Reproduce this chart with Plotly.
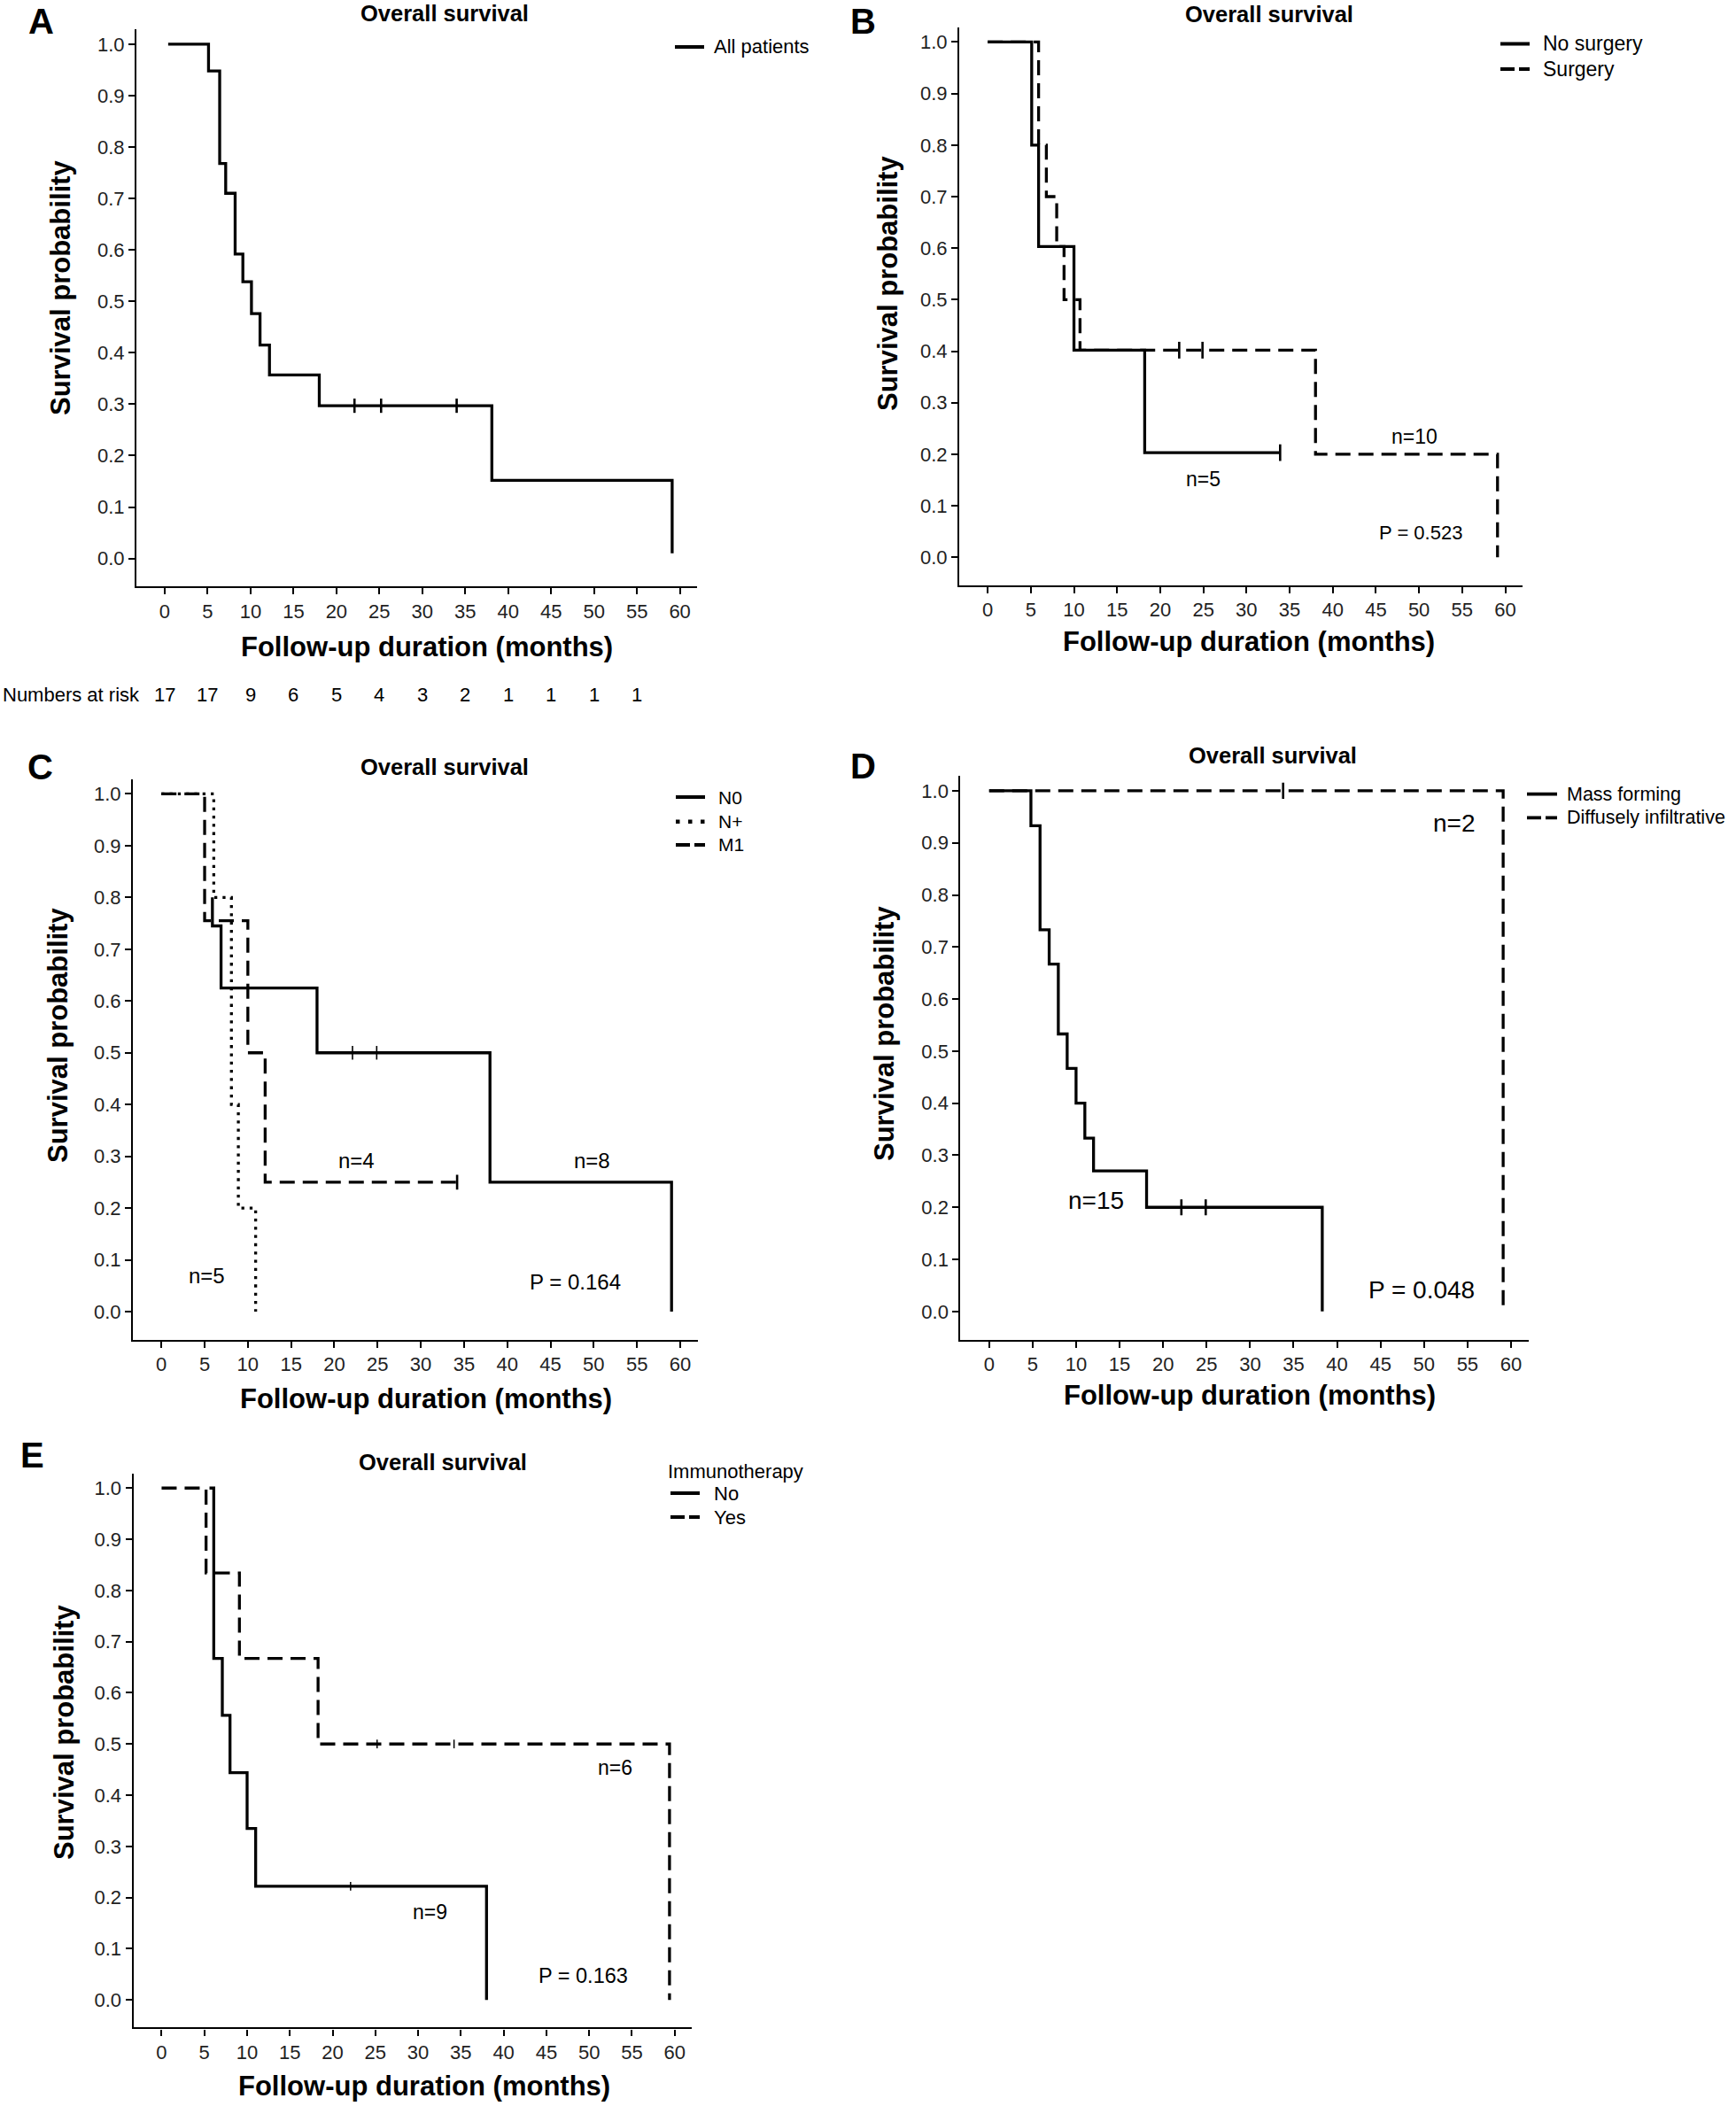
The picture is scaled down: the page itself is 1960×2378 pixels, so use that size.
import plotly.graph_objects as go

W, H = 1960, 2378
FONT = "Liberation Sans, Arial, sans-serif"

# ------------------------- DATA -------------------------
x_ticks = list(range(0, 61, 5))
y_ticks = [0.0, 0.1, 0.2, 0.3, 0.4, 0.5, 0.6, 0.7, 0.8, 0.9, 1.0]

# Panel A - all patients
a_time = [0.4, 5.1, 6.4, 7.1, 8.2, 9.1, 10.1, 11.1, 12.2, 18.0, 38.1, 59.1]
a_surv = [1.0, 0.948, 0.768, 0.71, 0.592, 0.538, 0.476, 0.415, 0.357, 0.297, 0.152, 0.01]
a_cens_time = [22.1, 25.2, 34.0]
a_cens_surv = [0.297, 0.297, 0.297]
risk_time = [0, 5, 10, 15, 20, 25, 30, 35, 40, 45, 50, 55]
risk_counts = [17, 17, 9, 6, 5, 4, 3, 2, 1, 1, 1, 1]

# Panel B - surgery
b_nosurg_time = [0, 5.1, 5.9, 10.0, 18.2, 33.9]
b_nosurg_surv = [1.0, 0.8, 0.603, 0.402, 0.203, 0.203]
b_nosurg_cens_time = [33.9]
b_nosurg_cens_surv = [0.203]
b_surg_time = [0, 5.9, 6.8, 8.0, 8.85, 10.7, 38.0, 59.1]
b_surg_surv = [1.0, 0.8, 0.7, 0.603, 0.5, 0.402, 0.2, 0.0]
b_surg_cens_time = [22.2, 24.9]
b_surg_cens_surv = [0.402, 0.402]

# Panel C - nodal status
c_n0_time = [5.9, 5.9, 6.9, 18.0, 38.0, 59.0]
c_n0_surv = [0.80, 0.745, 0.625, 0.5, 0.25, 0.0]
c_n0_cens_time = [22.1, 24.9]
c_n0_cens_surv = [0.5, 0.5]
c_np_time = [0, 6.06, 8.1, 8.9, 10.9]
c_np_surv = [1.0, 0.8, 0.4, 0.2, 0.0]
c_m1_time = [0, 5.0, 10.0, 12.0, 34.2]
c_m1_surv = [1.0, 0.755, 0.5, 0.25, 0.25]
c_m1_cens_time = [34.2]
c_m1_cens_surv = [0.25]

# Panel D - morphology
d_mass_time = [0, 4.8, 5.85, 6.9, 7.95, 8.97, 9.99, 11.0, 12.0, 18.1, 38.3]
d_mass_surv = [1.0, 0.933, 0.733, 0.667, 0.533, 0.467, 0.4, 0.333, 0.27, 0.2, 0.0]
d_mass_cens_time = [22.1, 24.9]
d_mass_cens_surv = [0.2, 0.2]
d_diff_time = [0, 59.1]
d_diff_surv = [1.0, 0.0]
d_diff_cens_time = [33.8]
d_diff_cens_surv = [1.0]

# Panel E - immunotherapy
e_no_time = [5.6, 6.1, 7.1, 8.0, 10.0, 11.0, 38.0]
e_no_surv = [1.0, 0.667, 0.556, 0.444, 0.335, 0.222, 0.0]
e_no_cens_time = [22.1]
e_no_cens_surv = [0.222]
e_yes_time = [0, 5.2, 9.1, 18.3, 59.4]
e_yes_surv = [1.0, 0.834, 0.667, 0.5, 0.0]
e_yes_cens_time = [25.2, 34.2]
e_yes_cens_surv = [0.5, 0.5]

# legend entries per panel
legend_a = ["All patients"]
legend_b = ["No surgery", "Surgery"]
legend_c = ["N0", "N+", "M1"]
legend_d = ["Mass forming", "Diffusely infiltrative"]
legend_e_title = "Immunotherapy"
legend_e = ["No", "Yes"]


# ------------------------- LAYOUT HELPERS -------------------------
def px_x(p):
    return p / W


def px_y(p):
    return 1 - p / H


# panel frames in pixels: (left, right, top, bottom)
frames = {
    "A": (154, 787, 33, 662),
    "B": (1083, 1719, 30.6, 660.7),
    "C": (150, 787.5, 879.5, 1512.6),
    "D": (1084.4, 1725.6, 875.9, 1512.6),
    "E": (150.6, 781, 1663.5, 2289.4),
}
axis_ids = {"A": "", "B": "2", "C": "3", "D": "4", "E": "5"}
X_RANGE = [-3.3, 62.0]
Y_RANGE = [-0.054, 1.029]

LW = 3.3
DASH = "17px,9px"
DOT = "3.3px,6px"
KEY_DASH = "16px,5px"
KEY_DOT = "4.5px,9.5px"

fig = go.Figure()


def step(panel, t, s, name, dash="solid"):
    k = axis_ids[panel]
    fig.add_trace(go.Scatter(
        x=t, y=s, mode="lines", name=name,
        line=dict(color="black", width=LW, dash=dash, shape="hv"),
        xaxis="x" + k, yaxis="y" + k, showlegend=False, hoverinfo="skip",
    ))


def censor(panel, t, s, size=11.5, width=2.6):
    k = axis_ids[panel]
    fig.add_trace(go.Scatter(
        x=t, y=s, mode="markers", showlegend=False, hoverinfo="skip",
        marker=dict(symbol="line-ns", size=size, color="black",
                    line=dict(color="black", width=width)),
        xaxis="x" + k, yaxis="y" + k,
    ))


# Panel A
step("A", a_time, a_surv, legend_a[0])
censor("A", a_cens_time, a_cens_surv)

# Panel B
step("B", b_nosurg_time, b_nosurg_surv, legend_b[0])
step("B", b_surg_time, b_surg_surv, legend_b[1], dash=DASH)
censor("B", b_nosurg_cens_time, b_nosurg_cens_surv, size=13.5)
censor("B", b_surg_cens_time, b_surg_cens_surv, size=13.5)

# Panel C
step("C", c_n0_time, c_n0_surv, legend_c[0])
step("C", c_np_time, c_np_surv, legend_c[1], dash=DOT)
step("C", c_m1_time, c_m1_surv, legend_c[2], dash=DASH)
censor("C", c_n0_cens_time, c_n0_cens_surv, size=11, width=1.6)
censor("C", c_m1_cens_time, c_m1_cens_surv, size=12, width=2.6)

# Panel D
step("D", d_mass_time, d_mass_surv, legend_d[0])
step("D", d_diff_time, d_diff_surv, legend_d[1], dash=DASH)
censor("D", d_mass_cens_time, d_mass_cens_surv, size=13)
censor("D", d_diff_cens_time, d_diff_cens_surv, size=13)

# Panel E
step("E", e_no_time, e_no_surv, legend_e[0])
step("E", e_yes_time, e_yes_surv, legend_e[1], dash=DASH)
censor("E", e_no_cens_time, e_no_cens_surv, size=7, width=1.5)
censor("E", e_yes_cens_time, e_yes_cens_surv, size=7, width=1.5)

layout = dict(
    width=W, height=H, autosize=False,
    margin=dict(l=0, r=0, t=0, b=0, pad=0),
    paper_bgcolor="white", plot_bgcolor="white",
    font=dict(family=FONT, color="black", size=22),
    showlegend=False,
)

for p, (l, r, t, b) in frames.items():
    k = axis_ids[p]
    common = dict(
        showline=True, linecolor="black", linewidth=2.2,
        ticks="outside", ticklen=7, tickwidth=2, tickcolor="black",
        showgrid=False, zeroline=False,
        tickfont=dict(family=FONT, size=22, color="#222222"),
        fixedrange=True,
    )
    layout["xaxis" + k] = dict(
        domain=[px_x(l), px_x(r)], range=X_RANGE, anchor="y" + k,
        tickmode="array", tickvals=x_ticks, ticktext=[str(v) for v in x_ticks],
        **common,
    )
    layout["yaxis" + k] = dict(
        domain=[px_y(b), px_y(t)], range=Y_RANGE, anchor="x" + k,
        tickmode="array", tickvals=y_ticks, ticktext=["%.1f" % v for v in y_ticks],
        **common,
    )

ann = []
shapes = []


def text(x, y, s, size, bold=False, xref="paper", yref="paper", angle=0,
         xanchor="center", yanchor="middle"):
    ann.append(dict(
        x=x, y=y, xref=xref, yref=yref, text=("<b>%s</b>" % s) if bold else s,
        showarrow=False, xanchor=xanchor, yanchor=yanchor, textangle=angle,
        font=dict(family=FONT, size=size, color="black"),
    ))


# Legends (drawn as keys + labels)
def legend(entries, styles, x0, x1, tx, ys, size):
    for name, st, y in zip(entries, styles, ys):
        if st == "dot":
            dash, w = KEY_DOT, 4.5
        elif st == "dash":
            dash, w = KEY_DASH, 3.8
        else:
            dash, w = "solid", 3.8
        shapes.append(dict(type="line", xref="paper", yref="paper",
                           x0=px_x(x0), x1=px_x(x1), y0=px_y(y), y1=px_y(y),
                           line=dict(color="black", width=w, dash=dash)))
        text(px_x(tx), px_y(y), name, size, xanchor="left")


legend(legend_a, ["solid"], 762, 795, 804, [53], 22)
legend(legend_b, ["solid", "dash"], 1694, 1727, 1740, [49.5, 78], 23)
legend(legend_c, ["solid", "dot", "dash"], 763, 796, 809, [900, 927.7, 954], 21)
legend(legend_d, ["solid", "dash"], 1724, 1758, 1767, [896.7, 923.3], 21.5)
text(px_x(752), px_y(1661), legend_e_title, 22, xanchor="left")
legend(legend_e, ["solid", "dash"], 757, 790, 804, [1686, 1713], 22)

# Panel letters
for letter, (lx, ly) in {"A": (46, 0), "B": (974, 0)}.items():
    text(px_x(lx), px_y(ly), letter, 40, bold=True, yanchor="top")
for letter, (lx, ly) in {"C": (45, 866), "D": (974, 865), "E": (36, 1643)}.items():
    text(px_x(lx), px_y(ly), letter, 40, bold=True)

# Titles
for (tx, ty) in [(502, 15), (1433, 16), (502, 866), (1437, 853), (500, 1651)]:
    text(px_x(tx), px_y(ty), "Overall survival", 25.5, bold=True)

# Axis titles
for (xx, xy) in [(482, 730), (1410, 724.5), (481, 1579), (1411, 1575), (479, 2355)]:
    text(px_x(xx), px_y(xy), "Follow-up duration (months)", 31, bold=True)
for (yx, yy) in [(69, 325), (1002, 320), (66, 1169), (999, 1167), (72, 1956)]:
    text(px_x(yx), px_y(yy), "Survival probability", 31, bold=True, angle=-90)

# Numbers at risk (panel A)
text(px_x(1), px_y(784), "Numbers at risk", 22, xanchor="left")
for t, n in zip(risk_time, risk_counts):
    ann.append(dict(x=t, y=px_y(784), xref="x", yref="paper", text=str(n),
                    showarrow=False, xanchor="center", yanchor="middle",
                    font=dict(family=FONT, size=22, color="black")))

# In-plot labels (data coordinates)
labels = [
    ("B", 25.0, 0.151, "n=5", 23), ("B", 49.5, 0.234, "n=10", 23), ("B", 50.2, 0.048, "P = 0.523", 22),
    ("C", 22.6, 0.292, "n=4", 24), ("C", 49.8, 0.292, "n=8", 24), ("C", 5.3, 0.069, "n=5", 24),
    ("C", 47.9, 0.057, "P = 0.164", 24),
    ("D", 53.5, 0.937, "n=2", 28), ("D", 12.3, 0.214, "n=15", 28), ("D", 49.7, 0.041, "P = 0.048", 28),
    ("E", 53.0, 0.454, "n=6", 23), ("E", 31.4, 0.172, "n=9", 23), ("E", 49.3, 0.047, "P = 0.163", 23.5),
]
for p, x, y, s, size in labels:
    k = axis_ids[p]
    text(x, y, s, size, xref="x" + k, yref="y" + k)

layout["annotations"] = ann
layout["shapes"] = shapes
fig.update_layout(**layout)

fig.write_html(
    "out.html",
    config={"displayModeBar": False},
    post_script="document.body.style.margin='0px';document.body.style.padding='0px';",
)
